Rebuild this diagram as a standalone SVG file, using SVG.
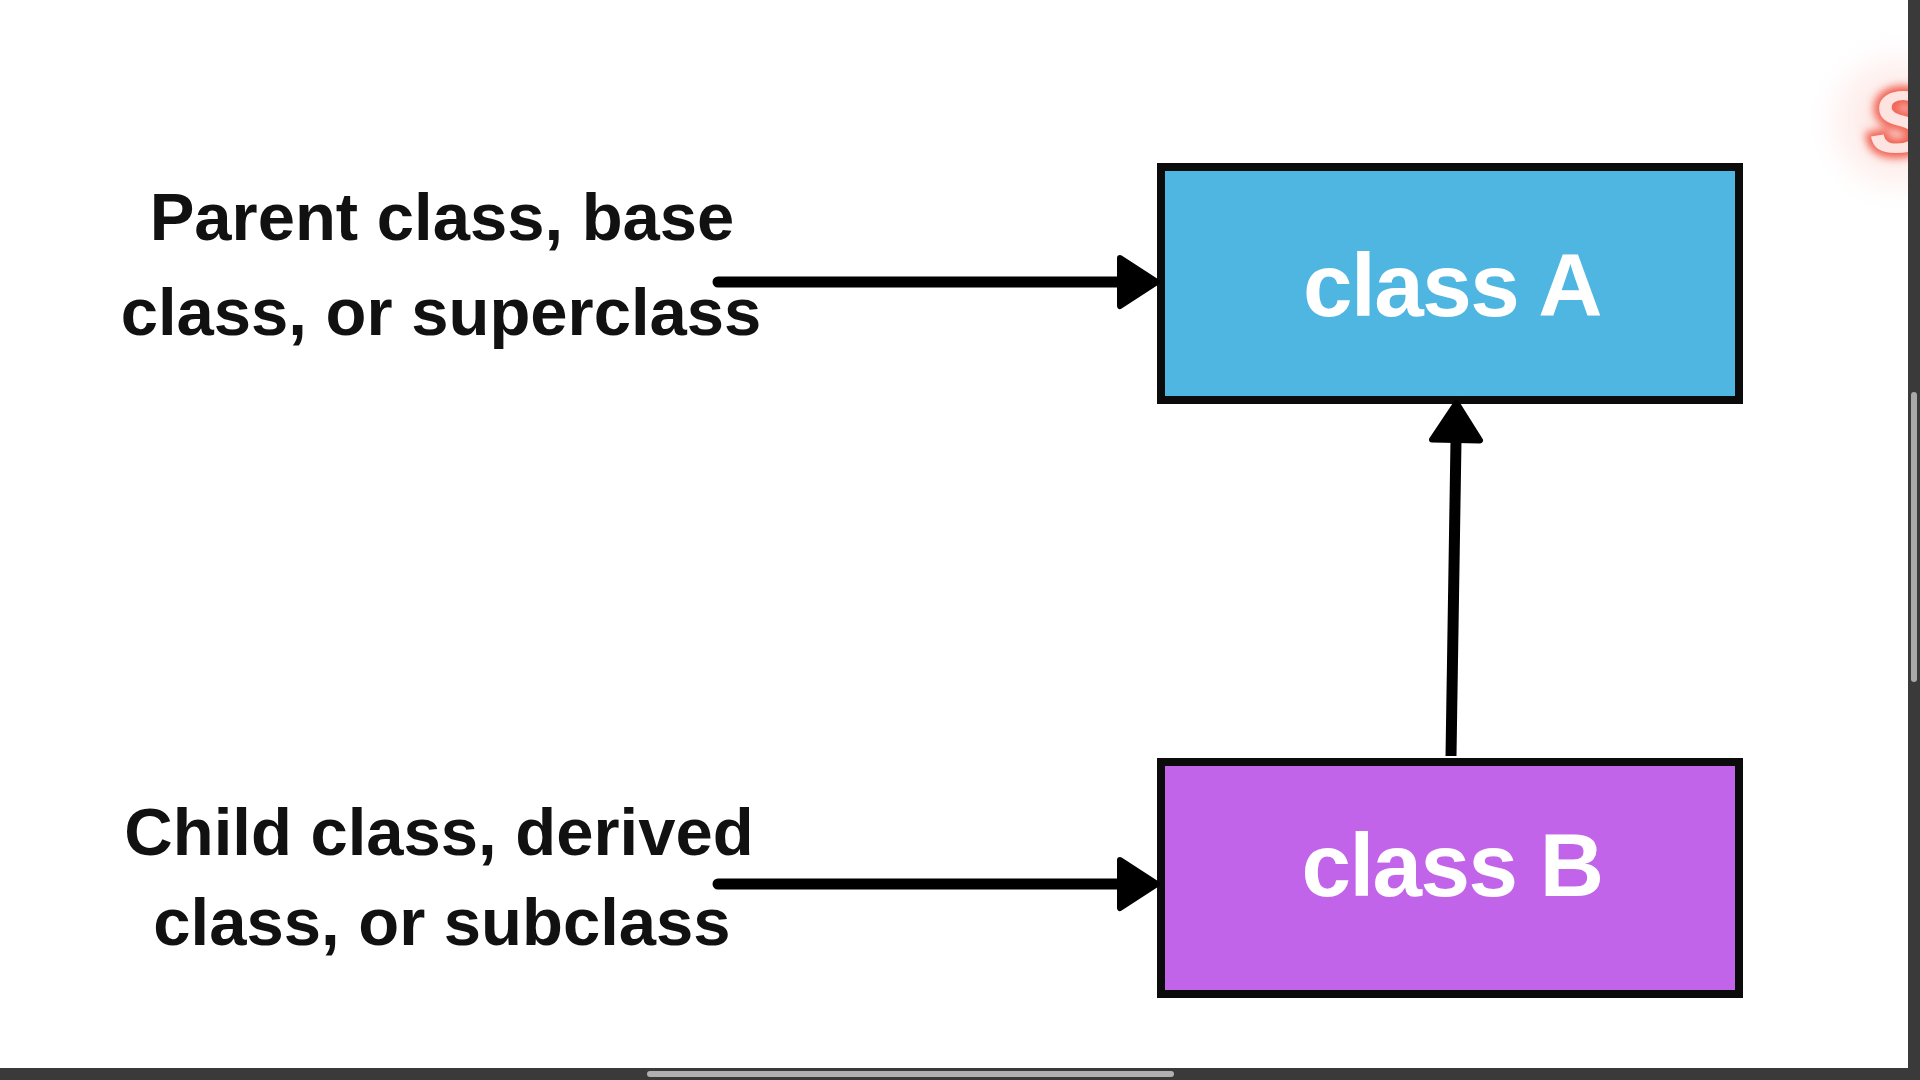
<svg xmlns="http://www.w3.org/2000/svg" width="1920" height="1080" viewBox="0 0 1920 1080">
  <style>
    .lbl { font-family: "Liberation Sans", Arial, sans-serif; font-weight: bold; font-size: 67px; fill: #111111; text-anchor: middle; }
    .boxtxt { font-family: "Liberation Sans", Arial, sans-serif; font-weight: bold; font-size: 89px; fill: #ffffff; text-anchor: middle; letter-spacing: -1.5px; }
    .box { stroke: #0b0b0b; stroke-width: 8; }
    .conn { stroke: #000000; stroke-width: 11; fill: none; stroke-linecap: round; }
  </style>
  <defs>
    <marker id="head" markerUnits="userSpaceOnUse" viewBox="-4 -32 48 64" refX="0" refY="0" markerWidth="48" markerHeight="64" orient="auto">
      <path d="M0,-24 L37,0 L0,24 Z" fill="#000" stroke="#000" stroke-width="6" stroke-linejoin="round"/>
    </marker>
    <radialGradient id="glow" cx="0.5" cy="0.5" r="0.5">
      <stop offset="0" stop-color="#f26b5b" stop-opacity="0.25"/>
      <stop offset="0.6" stop-color="#f8a89c" stop-opacity="0.12"/>
      <stop offset="1" stop-color="#ffffff" stop-opacity="0"/>
    </radialGradient>
    <filter id="blur" x="-50%" y="-50%" width="200%" height="200%">
      <feGaussianBlur stdDeviation="4"/>
    </filter>
  </defs>

  <rect x="0" y="0" width="1920" height="1080" fill="#ffffff"/>

  <!-- faint logo fragment at right edge -->
  <g id="logo-fragment">
    <circle cx="1898" cy="122" r="95" fill="url(#glow)"/>
    <text x="1870" y="152" font-family="Liberation Sans, Arial, sans-serif" font-weight="bold" font-style="italic" font-size="88" fill="none" stroke="#f05a4a" stroke-width="10" filter="url(#blur)">S</text>
    <text x="1870" y="152" font-family="Liberation Sans, Arial, sans-serif" font-weight="bold" font-style="italic" font-size="88" fill="#fde4e0">S</text>
  </g>

  <g id="label-parent">
    <text class="lbl" x="442" y="240">Parent class, base</text>
    <text class="lbl" x="441" y="335">class, or superclass</text>
  </g>
  <g id="label-child">
    <text class="lbl" x="439" y="855">Child class, derived</text>
    <text class="lbl" x="442" y="945">class, or subclass</text>
  </g>

  <g id="classA">
    <rect class="box" x="1161" y="167" width="578" height="233" fill="#4eb6e0"/>
    <text class="boxtxt" x="1452" y="316">class A</text>
  </g>
  <g id="classB">
    <rect class="box" x="1161" y="762" width="578" height="232" fill="#c264ea"/>
    <text class="boxtxt" x="1452" y="896">class B</text>
  </g>

  <g id="connectors">
    <line class="conn" x1="718" y1="282" x2="1120" y2="282" marker-end="url(#head)"/>
    <line class="conn" x1="718" y1="884" x2="1120" y2="884" marker-end="url(#head)"/>
    <line class="conn" x1="1451" y1="756" x2="1456" y2="440" marker-end="url(#head)" style="stroke-linecap:butt"/>
  </g>

  <!-- window scrollbars -->
  <g id="scrollbars">
    <rect x="1908" y="0" width="12" height="1080" fill="#3a3a3a"/>
    <rect x="0" y="1068" width="1920" height="12" fill="#3a3a3a"/>
    <rect x="1911" y="392" width="6" height="290" rx="3" fill="#a9a9a9"/>
    <rect x="647" y="1071" width="527" height="6" rx="3" fill="#b0b0b0"/>
  </g>
</svg>
